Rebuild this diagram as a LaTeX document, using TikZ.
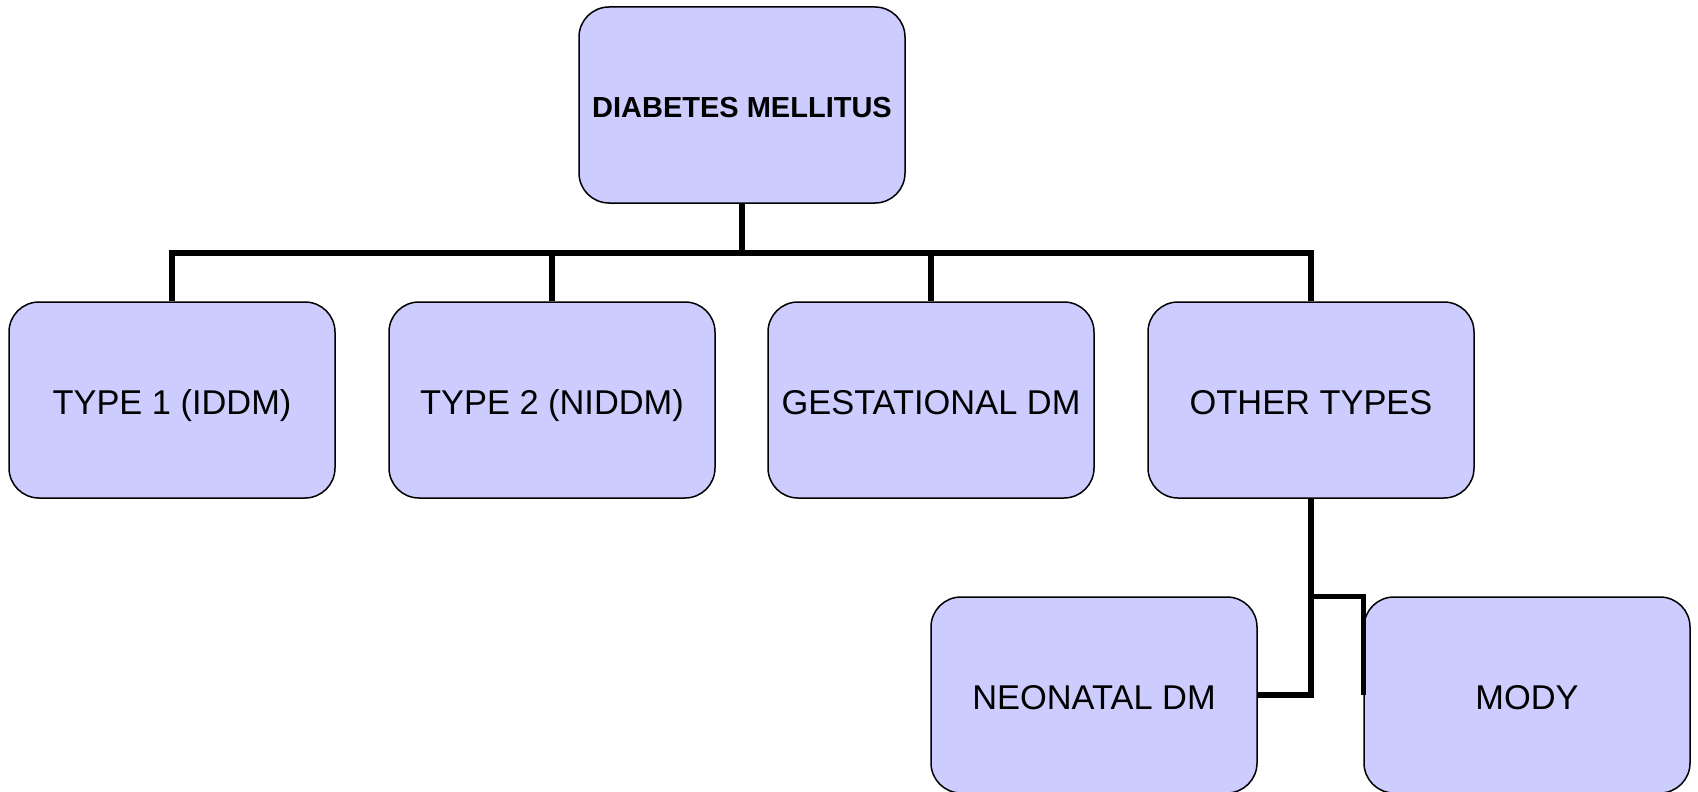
\documentclass[tikz,border=0pt]{standalone}
\usepackage{fontspec}
\setmainfont{Liberation Sans}
\definecolor{boxfill}{HTML}{CCCCFF}
\tikzset{
  dmbox/.style={draw=black, line width=0.75pt, fill=boxfill, rounded corners=15pt,
    minimum width=163pt, minimum height=98pt, inner sep=0pt, align=center,
    text depth=0pt, text height=14.2pt,
    font=\fontsize{17.2}{20}\selectfont},
  conn/.style={draw=black, line width=2.6pt, line join=miter}
}
\begin{document}
\begin{tikzpicture}[x=0.5pt,y=-0.5pt]
\useasboundingbox (0,0) rectangle (1698,792);
\clip (0,0) rectangle (1698,792);
\fill[white] (0,0) rectangle (1698,792);
\coordinate (bus) at (742,253);
\node[dmbox, text height=12.4pt, font=\fontsize{14.5}{17}\bfseries] (top) at (742,105) {DIABETES MELLITUS};
\node[dmbox] (t1) at (172,400) {TYPE 1 (IDDM)};
\node[dmbox] (t2) at (552,400) {TYPE 2 (NIDDM)};
\node[dmbox] (gest) at (931,400) {GESTATIONAL DM};
\node[dmbox] (other) at (1311,400) {OTHER TYPES};
\node[dmbox] (neo) at (1094,695) {NEONATAL DM};
\node[dmbox] (mody) at (1527,695) {MODY};
\draw[conn] (top.south) -- (bus);
\draw[conn] (t1.north) |- (bus) -| (other.north);
\draw[conn] (t2.north) -- (t2.north |- bus);
\draw[conn] (gest.north) -- (gest.north |- bus);
\draw[conn] (other.south) |- (neo.east);
\draw[conn] (other.south |- mody.north) -| (mody.west);
\end{tikzpicture}
\end{document}
